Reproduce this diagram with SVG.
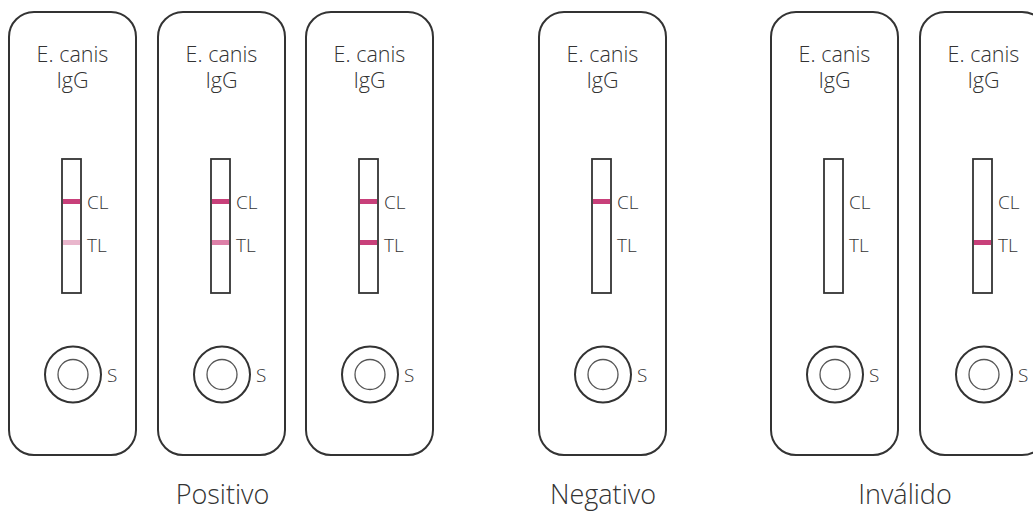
<svg xmlns="http://www.w3.org/2000/svg" width="1033" height="512" viewBox="0 0 1033 512">
<style>
.card{fill:#fff;stroke:#333;stroke-width:2}
.strip{fill:#fff;stroke:#333;stroke-width:1.8}
.outer{fill:none;stroke:#333;stroke-width:2}
.inner{fill:none;stroke:#555;stroke-width:1.3}
.t{font-family:"Open Sans","Liberation Sans",sans-serif;fill:#333;font-weight:300}
.name{font-size:21.5px;text-anchor:middle}
.lbl{font-size:19px}
.cap{font-size:27px;text-anchor:middle}
.strong{fill:#c8407a}
.mid{fill:#dd80a8}
.faint{fill:#e9b6cc}
</style>
<defs>
<g id="base">
<rect class="card" x="0" y="12" width="127" height="443" rx="25"/>
<text class="t name" x="63.5" y="62">E. canis</text>
<text class="t name" x="63.5" y="88">IgG</text>
<rect class="strip" x="53" y="159" width="19" height="134"/>
<text class="t lbl" x="78" y="209">CL</text>
<text class="t lbl" x="78" y="252">TL</text>
<circle class="outer" cx="64" cy="374.5" r="28"/>
<circle class="inner" cx="64" cy="374.5" r="15"/>
<text class="t lbl" x="98" y="382">S</text>
</g>
</defs>
<g id="pos1" transform="translate(9,0)">
<use href="#base"/>
<rect class="strong" x="54" y="199" width="17" height="5"/>
<rect class="faint" x="54" y="240" width="17" height="5"/>
</g>
<g id="pos2" transform="translate(158,0)">
<use href="#base"/>
<rect class="strong" x="54" y="199" width="17" height="5"/>
<rect class="mid" x="54" y="240" width="17" height="5"/>
</g>
<g id="pos3" transform="translate(306,0)">
<use href="#base"/>
<rect class="strong" x="54" y="199" width="17" height="5"/>
<rect class="strong" x="54" y="240" width="17" height="5"/>
</g>
<g id="neg" transform="translate(539,0)">
<use href="#base"/>
<rect class="strong" x="54" y="199" width="17" height="5"/>
</g>
<g id="inv1" transform="translate(771,0)">
<use href="#base"/>
</g>
<g id="inv2" transform="translate(920,0)">
<use href="#base"/>
<rect class="strong" x="54" y="240" width="17" height="5"/>
</g>
<g id="connectors"/>
<g id="captions">
<text class="t cap" x="222.5" y="504">Positivo</text>
<text class="t cap" x="603" y="504">Negativo</text>
<text class="t cap" x="905" y="504">Inválido</text>
</g>
</svg>
